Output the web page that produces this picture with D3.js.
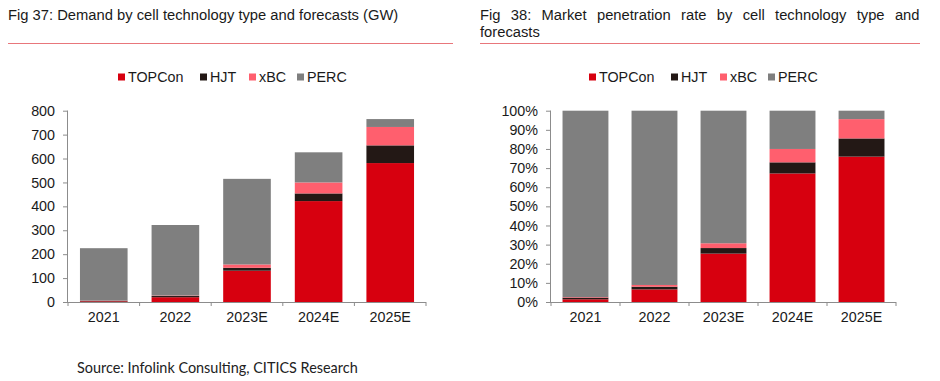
<!DOCTYPE html>
<html>
<head>
<meta charset="utf-8">
<script src="https://cdn.jsdelivr.net/npm/d3@7"></script>
<style>
  html, body { margin: 0; padding: 0; background: #fff; }
  svg { display: block; }
  text { font-family: "Liberation Sans", Arial, sans-serif; }
</style>
</head>
<body>
<svg id="chart" width="940" height="381"></svg>
<script>
// ---------- data ----------
const categories = ["2021", "2022", "2023E", "2024E", "2025E"];
const seriesNames = ["TOPCon", "HJT", "xBC", "PERC"];

// Fig 37: demand (GW)
const demandTOPCon = [3, 20, 131, 422, 581];
const demandHJT    = [2, 5, 12, 32, 74];
const demandXBC    = [1, 2, 14, 46, 77];
const demandPERC   = [219, 295, 358, 126, 33];

// Fig 38: penetration rate (%)
const shareTOPCon = [1.4, 6.6, 25.3, 67.2, 76.0];
const shareHJT    = [0.9, 1.4, 2.9, 5.8, 9.5];
const shareXBC    = [0.3, 0.9, 2.5, 7.0, 10.1];
const sharePERC   = [97.4, 91.1, 69.3, 20.0, 4.4];

const demandTicks = [0, 100, 200, 300, 400, 500, 600, 700, 800];
const shareTicks  = [0, 10, 20, 30, 40, 50, 60, 70, 80, 90, 100];

const title37 = "Fig 37: Demand by cell technology type and forecasts (GW)";
const title38a = "Fig 38: Market penetration rate by cell technology type and";
const title38b = "forecasts";
const sourceText = "Source: Infolink Consulting, CITICS Research";

const colors = { TOPCon: "#d7000f", HJT: "#231815", xBC: "#ff5f6e", PERC: "#7f7f7f" };

// ---------- drawing ----------
const svg = d3.select("#chart");
const textColor = "#1a1a1a";
const axisColor = "#8c8c8c";
const labelSize = "14.3px";
const titleSize = "14.75px";

function buildRows(a, b, c, d) {
  return categories.map((cat, i) => ({ cat, TOPCon: a[i], HJT: b[i], xBC: c[i], PERC: d[i] }));
}

function drawChart(opts) {
  const g = svg.append("g");
  const x = d3.scaleBand().domain(categories).range([opts.x0, opts.x1]).paddingInner(0.335).paddingOuter(0.167);
  const y = d3.scaleLinear().domain([0, opts.max]).range([opts.yBottom, opts.yTop]);

  const layers = d3.stack().keys(seriesNames)(opts.rows);

  g.selectAll("g.layer").data(layers).join("g")
    .attr("class", "layer")
    .attr("fill", d => colors[d.key])
    .selectAll("rect").data(d => d).join("rect")
      .attr("x", d => x(d.data.cat))
      .attr("width", x.bandwidth())
      .attr("y", d => y(d[1]))
      .attr("height", d => Math.max(0, y(d[0]) - y(d[1])));

  // y axis
  const yAxis = d3.axisLeft(y).tickValues(opts.ticks).tickSize(5).tickPadding(8)
    .tickFormat(opts.fmt);
  const ya = g.append("g").attr("transform", `translate(${opts.x0},0)`).call(yAxis);
  ya.select(".domain").attr("stroke", axisColor).attr("d", `M-0.5,${opts.yBottom}V${opts.yTop}`);
  ya.selectAll(".tick line").attr("stroke", axisColor);
  ya.selectAll(".tick text").attr("fill", textColor).style("font-size", labelSize)
    .style("font-family", '"Liberation Sans", Arial, sans-serif');

  // x axis
  const xAxis = d3.axisBottom(x).tickSize(0).tickPadding(10);
  const xa = g.append("g").attr("transform", `translate(0,${opts.yBottom})`).call(xAxis);
  xa.select(".domain").attr("stroke", axisColor).attr("d", `M${opts.x0},0.5H${opts.x1}`);
  xa.selectAll(".tick text").attr("fill", textColor).style("font-size", labelSize)
    .style("font-family", '"Liberation Sans", Arial, sans-serif');
  // boundary ticks between categories
  const bounds = d3.range(categories.length + 1).map(i => opts.x0 + i * (opts.x1 - opts.x0) / categories.length);
  xa.selectAll("line.sep").data(bounds).join("line")
    .attr("class", "sep")
    .attr("x1", d => d).attr("x2", d => d)
    .attr("y1", 0).attr("y2", 4)
    .attr("stroke", axisColor);

  // legend
  const lg = g.append("g").attr("transform", `translate(${opts.legendX},0)`);
  const offs = [0, 82, 131, 179];
  seriesNames.forEach((s, i) => {
    lg.append("rect").attr("x", offs[i]).attr("y", opts.legendY - 3.5).attr("width", 7).attr("height", 7).attr("fill", colors[s]);
    lg.append("text").attr("x", offs[i] + 10).attr("y", opts.legendY + 5)
      .attr("fill", textColor).style("font-size", labelSize).text(s);
  });
}

// Fig 37
drawChart({
  rows: buildRows(demandTOPCon, demandHJT, demandXBC, demandPERC),
  x0: 68, x1: 426, yTop: 110.7, yBottom: 302, max: 800,
  ticks: demandTicks, fmt: d => d, legendX: 118, legendY: 77
});

// Fig 38
drawChart({
  rows: buildRows(shareTOPCon, shareHJT, shareXBC, sharePERC),
  x0: 551, x1: 896, yTop: 110.7, yBottom: 302, max: 100,
  ticks: shareTicks, fmt: d => d + "%", legendX: 589, legendY: 77
});

// titles
svg.append("text").attr("x", 8).attr("y", 20).attr("fill", textColor)
  .style("font-size", titleSize).text(title37);
svg.append("line").attr("x1", 8).attr("x2", 453).attr("y1", 43.5).attr("y2", 43.5)
  .attr("stroke", "#e8767b").attr("stroke-width", 1);

// justified first line of Fig 38 title
(function () {
  const words = title38a.split(" ");
  const left = 480, right = 919.5, base = 20;
  const nodes = words.map(w => svg.append("text").attr("y", base).attr("fill", textColor)
    .style("font-size", titleSize).text(w));
  const widths = nodes.map(n => n.node().getComputedTextLength());
  const gap = (right - left - d3.sum(widths)) / (words.length - 1);
  let cx = left;
  nodes.forEach((n, i) => { n.attr("x", cx); cx += widths[i] + gap; });
})();
svg.append("text").attr("x", 480).attr("y", 37).attr("fill", textColor)
  .style("font-size", titleSize).text(title38b);
svg.append("line").attr("x1", 480).attr("x2", 920).attr("y1", 43.5).attr("y2", 43.5)
  .attr("stroke", "#e8767b").attr("stroke-width", 1);

// source
(function () {
  const t = svg.append("text").attr("x", 77).attr("y", 373).attr("fill", "#222")
    .style("font-family", 'Lato, "Open Sans", sans-serif').style("font-size", "100px").text(sourceText);
  const w = t.node().getComputedTextLength();
  t.style("font-size", (100 * 281 / w) + "px");
})();
</script>
</body>
</html>
